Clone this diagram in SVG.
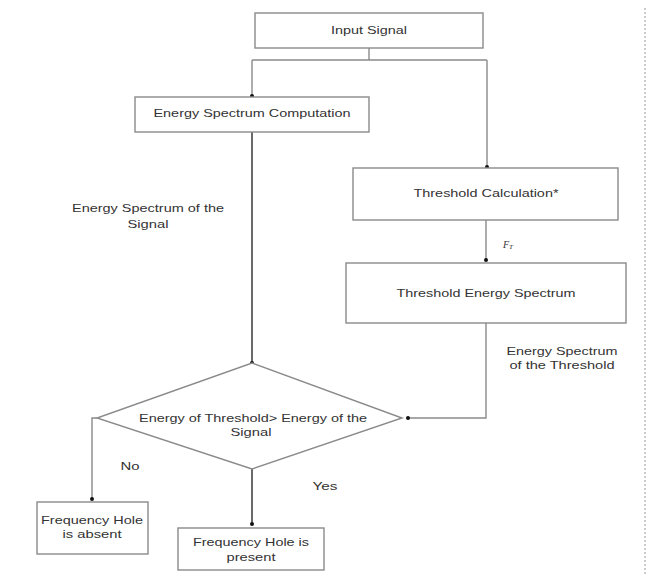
<svg xmlns="http://www.w3.org/2000/svg" width="648" height="574" viewBox="0 0 648 574">
<defs>
<style>
.box{fill:#fff;stroke:#8a8a8a;stroke-width:1.4}
.t{font-family:"Liberation Sans",Arial,sans-serif;font-size:11px;fill:#333;text-anchor:middle;dominant-baseline:central}
.c{fill:none;stroke:#8a8a8a;stroke-width:1.4}
.cd{fill:none;stroke:#444;stroke-width:1.6}
</style>
<marker id="dot" viewBox="0 0 6 6" refX="3" refY="3" markerWidth="4" markerHeight="4" markerUnits="userSpaceOnUse"><circle cx="3" cy="3" r="3" fill="#111"/></marker>
</defs>
<rect width="648" height="574" fill="#fff"/>
<line x1="645" y1="8" x2="645" y2="574" stroke="#bbb" stroke-width="1.5" stroke-dasharray="2,2"/>
<g id="connectors">
<path class="c" d="M369 48 V60"/>
<path class="c" d="M252 60 H487"/>
<path class="c" d="M252 60 V96" marker-end="url(#dot)"/>
<path class="c" d="M487 60 V167" marker-end="url(#dot)"/>
<path class="cd" d="M252 132 V363" marker-end="url(#dot)"/>
<path class="c" d="M486 220 V260" marker-end="url(#dot)"/>
<path class="c" d="M486 323 V418 H408" marker-end="url(#dot)"/>
<path class="c" d="M97 418 H92 V499" marker-end="url(#dot)"/>
<path class="cd" d="M252 469 V524" marker-end="url(#dot)"/>
<text x="130" y="466" class="t" textLength="19" lengthAdjust="spacingAndGlyphs">No</text>
<text x="325" y="486" class="t" textLength="25" lengthAdjust="spacingAndGlyphs">Yes</text>
<text x="148" y="208" class="t" textLength="152" lengthAdjust="spacingAndGlyphs">Energy Spectrum of the</text>
<text x="148" y="224" class="t" textLength="41" lengthAdjust="spacingAndGlyphs">Signal</text>
<text x="562" y="351" class="t" textLength="111" lengthAdjust="spacingAndGlyphs">Energy Spectrum</text>
<text x="562" y="365" class="t" textLength="105" lengthAdjust="spacingAndGlyphs">of the Threshold</text>
<text x="503" y="244" font-family="'Liberation Serif',serif" font-style="italic" font-size="10" fill="#333" dominant-baseline="central">F<tspan font-size="7" dy="3">T</tspan></text>
</g>
<g id="input">
<rect class="box" x="255" y="13" width="228" height="35"/>
<text x="369" y="30" class="t" textLength="76" lengthAdjust="spacingAndGlyphs">Input Signal</text>
</g>
<g id="esc">
<rect class="box" x="135" y="97" width="234" height="35"/>
<text x="252" y="113" class="t" textLength="197" lengthAdjust="spacingAndGlyphs">Energy Spectrum Computation</text>
</g>
<g id="thcalc">
<rect class="box" x="353" y="168" width="265" height="52"/>
<text x="486" y="193" class="t" textLength="145" lengthAdjust="spacingAndGlyphs">Threshold Calculation*</text>
</g>
<g id="thes">
<rect class="box" x="346" y="263" width="280" height="60"/>
<text x="486" y="293" class="t" textLength="179" lengthAdjust="spacingAndGlyphs">Threshold Energy Spectrum</text>
</g>
<g id="decision">
<polygon class="box" points="252,363 402,418 252,469 97,418"/>
<text x="253" y="418" class="t" textLength="228" lengthAdjust="spacingAndGlyphs">Energy of Threshold&gt; Energy of the</text>
<text x="251" y="432" class="t" textLength="41" lengthAdjust="spacingAndGlyphs">Signal</text>
</g>
<g id="absent">
<rect class="box" x="37" y="502" width="111" height="52"/>
<text x="92" y="520" class="t" textLength="102" lengthAdjust="spacingAndGlyphs">Frequency Hole</text>
<text x="92" y="534" class="t" textLength="59" lengthAdjust="spacingAndGlyphs">is absent</text>
</g>
<g id="present">
<rect class="box" x="178" y="528" width="146" height="42"/>
<text x="251" y="542" class="t" textLength="116" lengthAdjust="spacingAndGlyphs">Frequency Hole is</text>
<text x="251" y="557" class="t" textLength="49" lengthAdjust="spacingAndGlyphs">present</text>
</g>
</svg>
